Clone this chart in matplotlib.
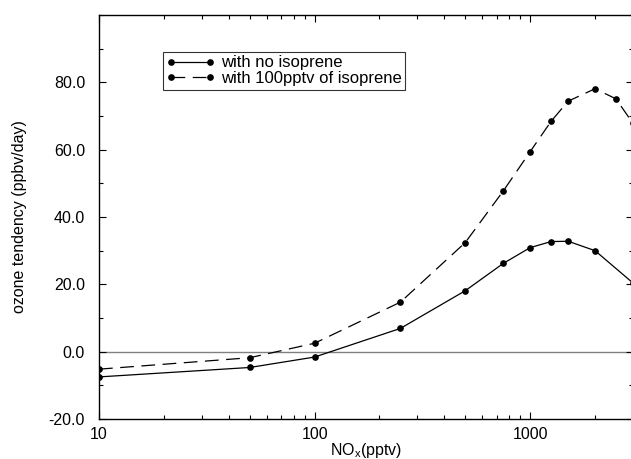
import matplotlib
matplotlib.use("Agg")
import matplotlib.pyplot as plt
from matplotlib.ticker import FixedLocator, MultipleLocator, LogLocator, NullFormatter

plt.rcParams['font.family'] = ['Liberation Sans', 'DejaVu Sans']

# NOx mixing ratio (pptv) for each run
nox_no_iso = [10, 50, 100, 250, 500, 750, 1000, 1250, 1500, 2000, 3000]
nox_iso = [10, 50, 100, 250, 500, 750, 1000, 1250, 1500, 2000, 2500, 3000]
# ozone tendency (ppbv/day)
no_isoprene = [-7.5, -4.7, -1.6, 6.9, 18.1, 26.2, 30.9, 32.7, 32.8, 30.0, 20.4]
with_isoprene = [-5.2, -1.8, 2.5, 14.7, 32.4, 47.7, 59.4, 68.4, 74.4, 78.1, 75.1, 67.8]

y_ticks = [-20, 0, 20, 40, 60, 80]
y_tick_labels = ["-20.0", "0.0", "20.0", "40.0", "60.0", "80.0"]
x_ticks = [10, 100, 1000]
x_tick_labels = ["10", "100", "1000"]

W, H = 631, 459
fig = plt.figure(figsize=(W / 100, H / 100), dpi=100)
ax = fig.add_axes([99 / W, (H - 419) / H, (633 - 99) / W, (419 - 15) / H])

ax.axhline(0, color="#808080", lw=1.0, zorder=1)

ax.plot(nox_no_iso, no_isoprene, "-", color="black", lw=0.9,
        marker="o", ms=3.8, label="with no isoprene", zorder=3)
ax.plot(nox_iso, with_isoprene, color="black", lw=0.9, ls=(0, (11, 6)),
        marker="o", ms=3.8, label="with 100pptv of isoprene", zorder=3)

ax.set_xscale("log")
ax.set_xlim(10, 3000)
ax.set_ylim(-20, 100)

ax.xaxis.set_major_locator(FixedLocator(x_ticks))
ax.set_xticklabels(x_tick_labels)
ax.xaxis.set_minor_locator(LogLocator(base=10, subs=range(2, 10)))
ax.xaxis.set_minor_formatter(NullFormatter())
ax.yaxis.set_major_locator(FixedLocator(y_ticks))
ax.set_yticklabels(y_tick_labels)
ax.yaxis.set_minor_locator(MultipleLocator(10))

ax.tick_params(which="both", direction="in", top=True, right=True,
               labelsize=11.5, width=0.8, colors="black")
ax.tick_params(which="major", length=5)
ax.tick_params(axis="y", which="major", pad=10)
ax.tick_params(axis="x", which="major", pad=6)
ax.tick_params(which="minor", length=3)

for sp in ax.spines.values():
    sp.set_linewidth(1.0)

ax.set_xlabel("NO$_{\\mathregular{x}}$(pptv)", fontsize=11.5, labelpad=-1)
ax.set_ylabel("ozone tendency (ppbv/day)", fontsize=11.5, labelpad=16)

leg = ax.legend(loc="upper left", bbox_to_anchor=((163 - 99) / (633 - 99), (419 - 52) / (419 - 15)),
                numpoints=2, fontsize=12.0, frameon=True, fancybox=False,
                borderpad=0.2, labelspacing=0.05, handlelength=2.9,
                handletextpad=0.4, borderaxespad=0.0)
leg.get_frame().set_edgecolor("black")
leg.get_frame().set_linewidth(0.8)

fig.savefig("out.png", dpi=100)
